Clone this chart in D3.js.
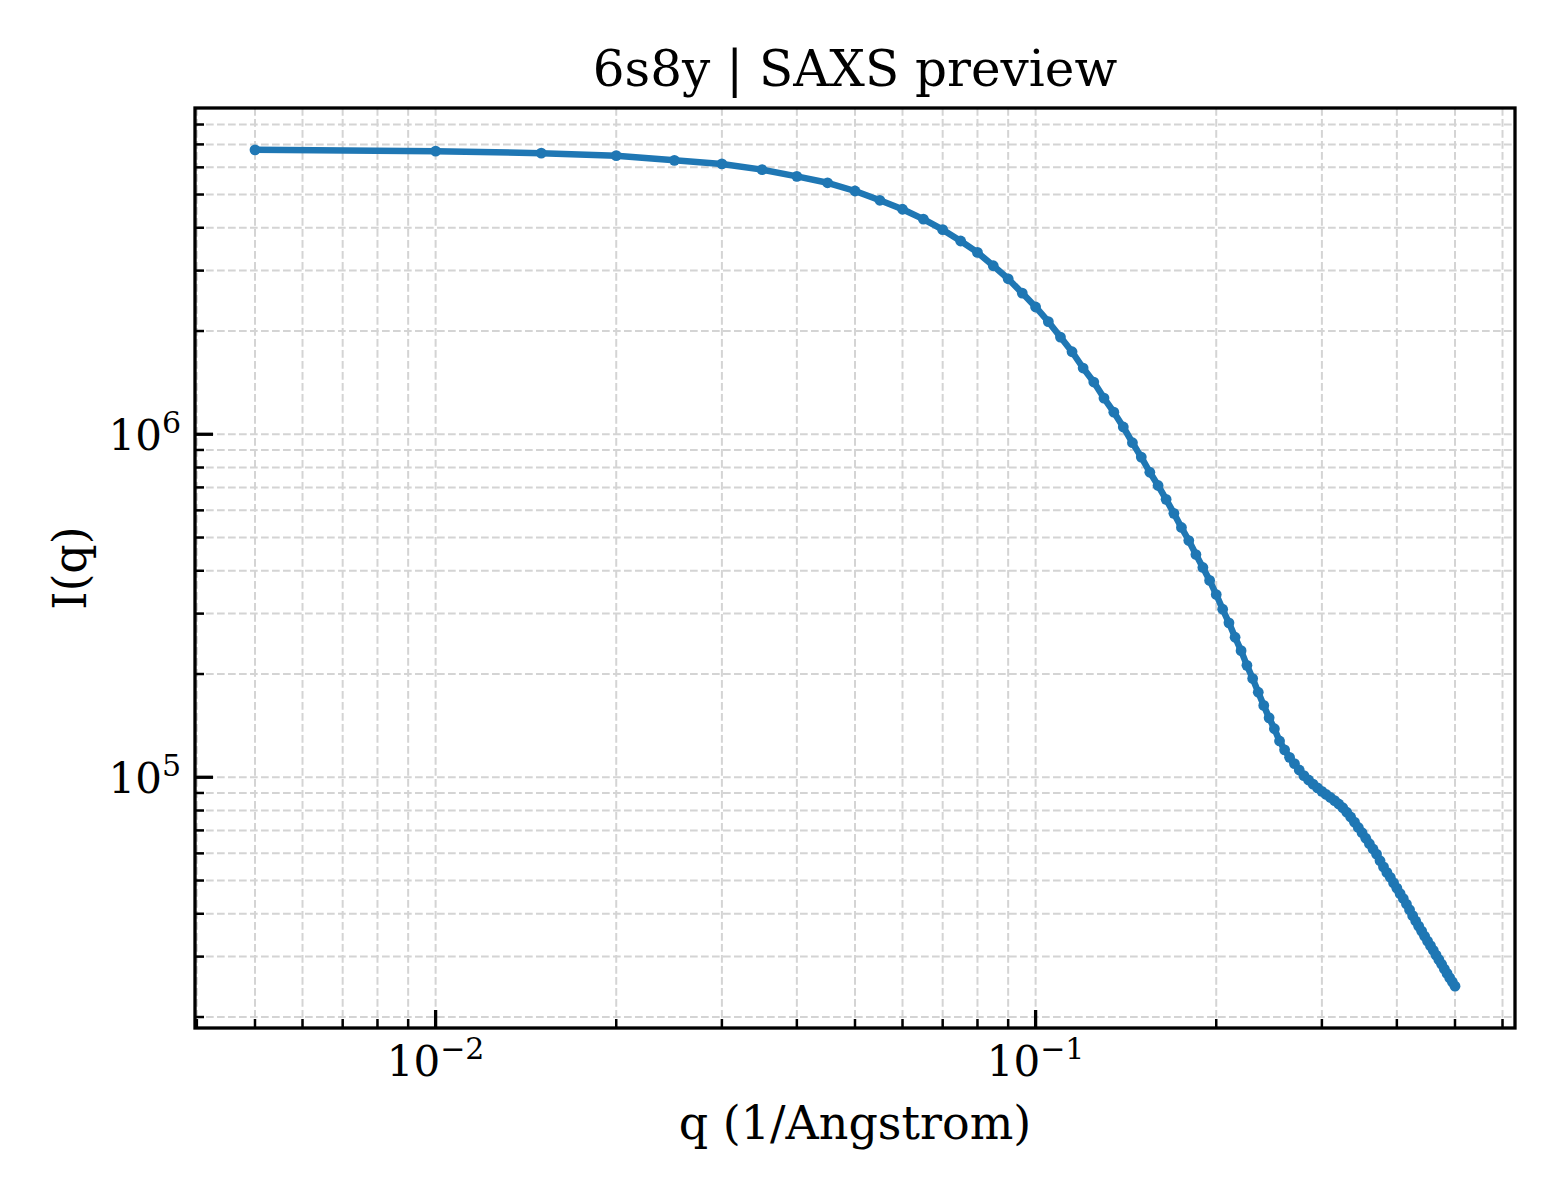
<!DOCTYPE html>
<html>
<head>
    <meta charset="utf-8">
    <title>6s8y | SAXS preview</title>
    <script src="https://cdn.jsdelivr.net/npm/d3@7/dist/d3.min.js"></script>
    <style>
        html, body { margin: 0; padding: 0; background: #fff; overflow: hidden; }
        svg { display: block; }
        text { font-family: 'DejaVu Serif', serif; fill: #000; }
    </style>
</head>
<body>
<svg width="1560" height="1200" id="mainsvg"></svg>
<script>
    // scattering vector q (1/Angstrom)
    const qValues = [
        0.005, 0.010, 0.015, 0.020, 0.025, 0.030, 0.035, 0.040, 0.045, 0.050,
        0.055, 0.060, 0.065, 0.070, 0.075, 0.080, 0.085, 0.090, 0.095, 0.100,
        0.105, 0.110, 0.115, 0.120, 0.125, 0.130, 0.135, 0.140, 0.145, 0.150,
        0.155, 0.160, 0.165, 0.170, 0.175, 0.180, 0.185, 0.190, 0.195, 0.200,
        0.205, 0.210, 0.215, 0.220, 0.225, 0.230, 0.235, 0.240, 0.245, 0.250,
        0.255, 0.260, 0.265, 0.270, 0.275, 0.280, 0.285, 0.290, 0.295, 0.300,
        0.305, 0.310, 0.315, 0.320, 0.325, 0.330, 0.335, 0.340, 0.345, 0.350,
        0.355, 0.360, 0.365, 0.370, 0.375, 0.380, 0.385, 0.390, 0.395, 0.400,
        0.405, 0.410, 0.415, 0.420, 0.425, 0.430, 0.435, 0.440, 0.445, 0.450,
        0.455, 0.460, 0.465, 0.470, 0.475, 0.480, 0.485, 0.490, 0.495, 0.500
    ]
    // intensity I(q)
    const intensity = [
        6.75e6, 6.69e6, 6.60e6, 6.49e6, 6.29e6, 6.14e6, 5.91e6, 5.65e6, 5.41e6, 5.12e6,
        4.81e6, 4.53e6, 4.24e6, 3.95e6, 3.66e6, 3.39e6, 3.10e6, 2.84e6, 2.58e6, 2.35e6,
        2.13e6, 1.92e6, 1.74e6, 1.56e6, 1.42e6, 1.275e6, 1.16e6, 1.05e6, 9.45e5, 8.58e5,
        7.75e5, 7.09e5, 6.46e5, 5.88e5, 5.35e5, 4.90e5, 4.46e5, 4.09e5, 3.75e5, 3.41e5,
        3.09e5, 2.82e5, 2.56e5, 2.34e5, 2.12e5, 1.94e5, 1.77e5, 1.62e5, 1.49e5, 1.385e5,
        1.276e5, 1.202e5, 1.143e5, 1.096e5, 1.050e5, 1.011e5, 9.82e4, 9.55e4, 9.31e4, 9.10e4,
        8.91e4, 8.73e4, 8.55e4, 8.36e4, 8.15e4, 7.91e4, 7.66e4, 7.40e4, 7.14e4, 6.89e4,
        6.64e4, 6.40e4, 6.18e4, 5.97e4, 5.71e4, 5.48e4, 5.28e4, 5.11e4, 4.92e4, 4.75e4,
        4.58e4, 4.43e4, 4.27e4, 4.11e4, 3.95e4, 3.81e4, 3.68e4, 3.56e4, 3.44e4, 3.33e4,
        3.23e4, 3.13e4, 3.03e4, 2.94e4, 2.85e4, 2.76e4, 2.68e4, 2.60e4, 2.53e4, 2.46e4
    ]
    const xTickLabels = [{value: 0.01, base: '10', exp: '\u22122'}, {value: 0.1, base: '10', exp: '\u22121'}]
    const yTickLabels = [{value: 1e5, base: '10', exp: '5'}, {value: 1e6, base: '10', exp: '6'}]
    const titleText = '6s8y | SAXS preview'
    const xLabelText = 'q (1/Angstrom)'
    const yLabelText = 'I(q)'

    const svg = d3.select('svg')
    const width = +svg.attr('width')
    const height = +svg.attr('height')
    const margin = {top: 108, right: 45, bottom: 172, left: 195}
    const innerWidth = width - margin.left - margin.right
    const innerHeight = height - margin.top - margin.bottom
    const mainGroup = svg.append('g')
        .attr('transform', `translate(${margin.left}, ${margin.top})`)

    const data = qValues.map((q, i) => ({q: q, I: intensity[i]}))

    // matplotlib-like 5% margins in log space
    function paddedLog(extent) {
        const lo = Math.log10(extent[0]), hi = Math.log10(extent[1])
        const pad = (hi - lo) * 0.05
        return [Math.pow(10, lo - pad), Math.pow(10, hi + pad)]
    }

    const xScale = d3.scaleLog()
        .domain(paddedLog(d3.extent(qValues)))
        .range([0, innerWidth])
    const yScale = d3.scaleLog()
        .domain(paddedLog(d3.extent(intensity)))
        .range([innerHeight, 0])

    const isMajor = v => Math.abs(Math.log10(v) - Math.round(Math.log10(v))) < 1e-9
    const xTicks = xScale.ticks()
    const yTicks = yScale.ticks()

    // grid (major + minor)
    const grid = mainGroup.append('g')
        .attr('stroke', '#d4d4d4')
        .attr('stroke-width', 2)
        .attr('stroke-dasharray', '7.7,3.3')
    grid.selectAll('.gx')
        .data(xTicks)
        .join('line')
        .attr('class', 'gx')
        .attr('x1', d => xScale(d))
        .attr('x2', d => xScale(d))
        .attr('y1', 0)
        .attr('y2', innerHeight)
    grid.selectAll('.gy')
        .data(yTicks)
        .join('line')
        .attr('class', 'gy')
        .attr('x1', 0)
        .attr('x2', innerWidth)
        .attr('y1', d => yScale(d))
        .attr('y2', d => yScale(d))

    // data line + markers
    const line = d3.line()
        .x(d => xScale(d.q))
        .y(d => yScale(d.I))
    mainGroup.append('path')
        .datum(data)
        .attr('d', line)
        .attr('fill', 'none')
        .attr('stroke', '#1f77b4')
        .attr('stroke-width', 6.5)
        .attr('stroke-linejoin', 'round')
        .attr('stroke-linecap', 'round')
    mainGroup.selectAll('circle')
        .data(data)
        .join('circle')
        .attr('cx', d => xScale(d.q))
        .attr('cy', d => yScale(d.I))
        .attr('r', 5.4)
        .attr('fill', '#1f77b4')

    // inward ticks, bottom and left only
    const ticks = mainGroup.append('g').attr('stroke', '#000')
    ticks.selectAll('.tx')
        .data(xTicks)
        .join('line')
        .attr('class', 'tx')
        .attr('x1', d => xScale(d))
        .attr('x2', d => xScale(d))
        .attr('y1', innerHeight)
        .attr('y2', d => innerHeight - (isMajor(d) ? 18 : 9))
        .attr('stroke-width', d => isMajor(d) ? 3.3 : 2.5)
    ticks.selectAll('.ty')
        .data(yTicks)
        .join('line')
        .attr('class', 'ty')
        .attr('x1', 0)
        .attr('x2', d => isMajor(d) ? 18 : 9)
        .attr('y1', d => yScale(d))
        .attr('y2', d => yScale(d))
        .attr('stroke-width', d => isMajor(d) ? 3.3 : 2.5)

    // frame
    mainGroup.append('rect')
        .attr('width', innerWidth)
        .attr('height', innerHeight)
        .attr('fill', 'none')
        .attr('stroke', '#000')
        .attr('stroke-width', 3.3)

    // tick labels: base "10" and the exponent as two texts
    const baseSize = 42, expSize = 30
    function powerLabel(g, d, x, y, anchor) {
        const base = g.append('text')
            .attr('font-size', baseSize)
            .attr('y', y)
            .text(d.base)
        const exp = g.append('text')
            .attr('font-size', expSize)
            .attr('y', y - 17)
            .text(d.exp)
        const bw = base.node().getComputedTextLength()
        const ew = exp.node().getComputedTextLength()
        const left = anchor === 'end' ? x - bw - ew : x - (bw + ew) / 2
        base.attr('x', left)
        exp.attr('x', left + bw)
    }
    const labelGroup = mainGroup.append('g')
    xTickLabels.forEach(d => powerLabel(labelGroup, d, xScale(d.value), innerHeight + 48, 'middle'))
    yTickLabels.forEach(d => powerLabel(labelGroup, d, -14, yScale(d.value) + 16, 'end'))

    // title and axis labels
    svg.append('text')
        .attr('x', margin.left + innerWidth / 2)
        .attr('y', 86)
        .attr('text-anchor', 'middle')
        .attr('font-size', 50)
        .text(titleText)
    svg.append('text')
        .attr('x', margin.left + innerWidth / 2)
        .attr('y', 1139)
        .attr('text-anchor', 'middle')
        .attr('font-size', 46)
        .text(xLabelText)
    svg.append('text')
        .attr('transform', `translate(86, ${margin.top + innerHeight / 2}) rotate(-90)`)
        .attr('text-anchor', 'middle')
        .attr('font-size', 46)
        .text(yLabelText)
</script>
</body>
</html>
